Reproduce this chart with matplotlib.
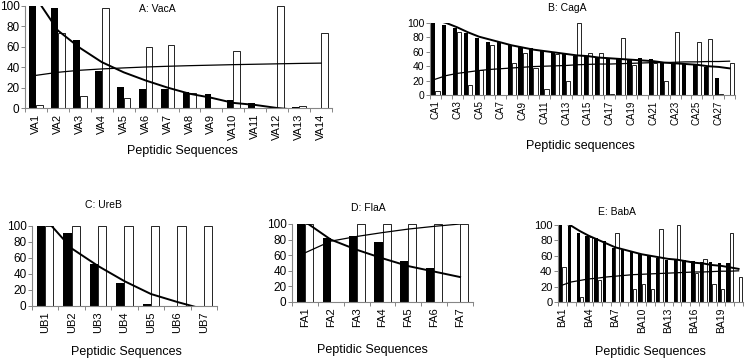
#!/usr/bin/env python3
"""Peptide panels A-E: black/white bars with trend lines."""
import matplotlib
matplotlib.use("Agg")
import matplotlib.pyplot as plt
import numpy as np

plt.rcParams["font.family"] = ["Liberation Sans", "DejaVu Sans"]

# A: VacA
vaca_labels = [f"VA{i}" for i in range(1, 15)]
vaca_black = [100, 98, 67, 36, 21, 19, 19, 16, 14, 8, 5, 1, 1, 0]
vaca_white = [3, 74, 12, 98, 10, 60, 62, 15, 0, 56, 0, 100, 2, 74]
vaca_fall = [108, 76, 59, 45, 35, 27, 20, 14, 10, 5, 3, 0, -2, -4]
vaca_rise = [32, 35, 37, 38.3, 39.3, 40.2, 40.9, 41.5, 42, 42.5, 42.9, 43.3, 43.7, 44]

# B: CagA
caga_labels = [f"CA{i}" for i in range(1, 29)]
caga_black = [100, 97, 93, 86, 79, 74, 73, 69, 66, 65, 63, 60, 59, 54,
              54, 51, 51, 50, 50, 51, 50, 45, 45, 43, 42, 39, 24, 0]
caga_white = [5, 0, 88, 14, 35, 69, 0, 45, 58, 37, 9, 57, 19, 100,
              58, 59, 1, 79, 42, 0, 44, 20, 87, 0, 73, 78, 1, 45]
caga_fall = [104, 100, 94, 87, 81, 77, 73, 69, 66, 63, 61, 59, 57, 55,
             54, 52, 51, 50, 49, 48, 47, 45, 44, 43, 42, 40, 39, 37]
caga_rise = [22, 27, 30, 32, 34, 35.5, 36.5, 37.5, 38.5, 39.5, 40, 40.5, 41, 42,
             42.5, 43, 43, 43.5, 44, 44.5, 45, 45, 45.5, 46, 46, 46.5, 46.5, 47]

# C: UreB
ureb_labels = ["UB1", "UB2", "UB3", "UB4", "UB5", "UB6", "UB7"]
ureb_black = [100, 91, 52, 29, 2, 0, 0]
ureb_white = [100, 100, 100, 100, 100, 100, 100]
ureb_fall = [109, 72, 50, 31, 15, 5, -4]

# D: FlaA
flaa_labels = ["FA1", "FA2", "FA3", "FA4", "FA5", "FA6", "FA7"]
flaa_black = [100, 82, 84, 77, 53, 44, 0]
flaa_white = [100, 0, 100, 100, 100, 100, 100]
flaa_fall = [103, 80, 67, 56, 46, 39, 32]
flaa_rise = [63, 78, 84, 89, 93.5, 97, 100]

# E: BabA
baba_labels = [f"BA{i}" for i in range(1, 22)]
baba_black = [100, 99, 89, 86, 83, 79, 70, 67, 66, 62, 60, 57, 55, 54,
              55, 53, 52, 52, 51, 51, 0]
baba_white = [45, 0, 6, 84, 28, 0, 89, 0, 17, 23, 17, 95, 0, 100,
              0, 38, 56, 23, 17, 89, 33]
baba_fall = [104, 99, 92, 86, 81, 76, 71, 68, 65, 62, 60, 58, 56, 55,
             53, 51, 50, 48, 47, 45, 43]
baba_rise = [22, 26, 28, 30, 31, 32.5, 33.5, 34.5, 35.5, 36, 36.5, 37, 37.5, 38,
             38.5, 39, 39, 39.5, 40, 40, 40.5]

W, H = 746, 360
AXIS_GREY = "#868686"


def px_rect(x0, y0, x1, y1):
    """Pixel box (top-left origin) to figure fraction rect."""
    return [x0 / W, 1 - y1 / H, (x1 - x0) / W, (y1 - y0) / H]


def panel(fig, rect, labels, black, white, fall, rise=None, step=1,
          bw=0.31, ysize=8.5, xsize=8.0):
    ax = fig.add_axes(rect)
    x = np.arange(len(labels))
    ax.bar(x - bw / 2, black, bw, color="black", linewidth=0)
    ax.bar(x + bw / 2, white, bw, color="white", edgecolor="black", linewidth=0.6)
    ax.plot(x, fall, color="black", linewidth=1.4)
    if rise is not None:
        ax.plot(x, rise, color="black", linewidth=0.9)

    ax.set_xlim(-0.5, len(labels) - 0.5)
    ax.set_ylim(0, 100)
    ax.set_yticks([0, 20, 40, 60, 80, 100])
    ax.tick_params(axis="y", labelsize=ysize, length=3, width=0.7,
                   color=AXIS_GREY, pad=1)

    # tick marks between categories, labels at the centres
    ax.set_xticks(np.arange(len(labels) + 1) - 0.5)
    ax.set_xticklabels([])
    ax.tick_params(axis="x", which="major", length=3, width=0.7, color=AXIS_GREY)
    ax.set_xticks(x, [lab if i % step == 0 else "" for i, lab in enumerate(labels)],
                  minor=True, rotation=90)
    ax.tick_params(axis="x", which="minor", length=0, labelsize=xsize, pad=4)

    for side in ("top", "right"):
        ax.spines[side].set_visible(False)
    for side in ("left", "bottom"):
        ax.spines[side].set_color(AXIS_GREY)
        ax.spines[side].set_linewidth(0.8)
    return ax


fig = plt.figure(figsize=(W / 100, H / 100), dpi=100)

panel(fig, px_rect(25, 6, 332, 108), vaca_labels, vaca_black, vaca_white,
      vaca_fall, vaca_rise)
panel(fig, px_rect(430, 23, 735, 95), caga_labels, caga_black, caga_white,
      caga_fall, caga_rise, step=2, bw=0.38, ysize=7.5, xsize=7.0)
panel(fig, px_rect(32, 226, 217, 306), ureb_labels, ureb_black, ureb_white,
      ureb_fall)
panel(fig, px_rect(292, 224, 473, 302), flaa_labels, flaa_black, flaa_white,
      flaa_fall, flaa_rise)
panel(fig, px_rect(558, 225, 743, 302), baba_labels, baba_black, baba_white,
      baba_fall, baba_rise, step=3, bw=0.38, ysize=8.0, xsize=7.5)

# titles and axis labels, placed where they sit in the picture
texts = [
    (157, 9, "A: VacA"), (567, 8, "B: CagA"), (103, 205, "C: UreB"),
    (368, 208, "D: FlaA"), (617, 212, "E: BabA"),
]
for tx, ty, s in texts:
    fig.text(tx / W, 1 - ty / H, s, ha="center", va="center", fontsize=7.5)

xlabels = [
    (182, 151, "Peptidic Sequences"), (580, 146, "Peptidic sequences"),
    (126, 352, "Peptidic Sequences"), (372, 350, "Peptidic Sequences"),
    (650, 352, "Peptidic Sequences"),
]
for tx, ty, s in xlabels:
    fig.text(tx / W, 1 - ty / H, s, ha="center", va="center", fontsize=9)

fig.savefig("out.png", dpi=100)
